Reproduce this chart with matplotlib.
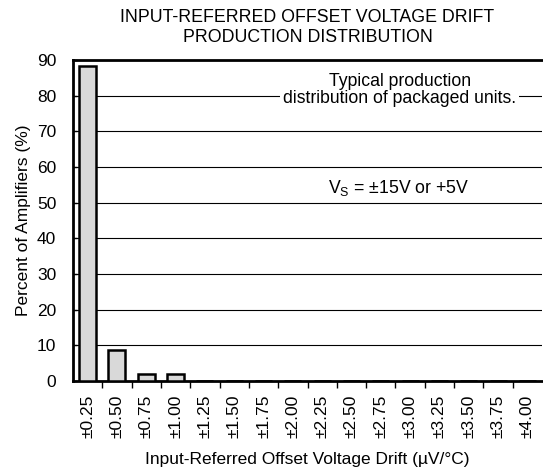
import numpy as np
import matplotlib.pyplot as plt

plt.rcParams['font.family'] = ['Liberation Sans', 'DejaVu Sans']

# Datos
categories = ["±0.25", "±0.50", "±0.75", "±1.00", "±1.25", "±1.50", "±1.75", "±2.00",
              "±2.25", "±2.50", "±2.75", "±3.00", "±3.25", "±3.50", "±3.75", "±4.00"]
percent = [88.3, 8.6, 2.0, 2.0, 0, 0, 0, 0, 0, 0, 0, 0, 0, 0, 0, 0]

x = np.arange(len(categories))

fig = plt.figure(figsize=(5.43, 4.76), dpi=100)
ax = fig.add_axes([73 / 543, 1 - 381 / 476, 469 / 543, 321 / 476])

# Grid horizontal
for yv in range(10, 90, 10):
    ax.axhline(yv, color="black", linewidth=0.8, zorder=1)

ax.bar(x, percent, width=0.58, color="#d9d9d9", edgecolor="black",
       linewidth=1.8, zorder=3)

ax.set_xlim(-0.5, 15.5)
ax.set_ylim(0, 90)
ax.set_yticks(range(0, 91, 10))
ax.tick_params(axis="y", direction="in", length=3, width=1, labelsize=12.5, pad=12)

ax.set_xticks(x)
ax.set_xticklabels(categories, rotation=90, fontsize=12.5)
ax.tick_params(axis="x", which="major", length=0, pad=10)
ax.set_xticks(x[:-1] + 0.5, minor=True)
ax.tick_params(axis="x", which="minor", direction="out", length=5, width=1)

for side in ["left", "bottom", "top"]:
    ax.spines[side].set_linewidth(2)
ax.spines["right"].set_visible(False)

ax.set_ylabel("Percent of Amplifiers (%)", fontsize=12.5, labelpad=4)
ax.set_xlabel("Input-Referred Offset Voltage Drift (µV/°C)", fontsize=12.5, labelpad=10)

ax.text(10.65, 81.6, "Typical production\ndistribution of packaged units.",
        ha="center", va="center", fontsize=12.7, linespacing=1.05,
        bbox=dict(facecolor="white", edgecolor="none", pad=2), zorder=4)
ax.text(10.62, 54.1, r"V$_\mathregular{S}$ = ±15V or +5V", ha="center", va="center",
        fontsize=12.7, zorder=4)

xc = (73 + 542) / 2 / 543
fig.text(xc, 1 - 17 / 476, "INPUT-REFERRED OFFSET VOLTAGE DRIFT", ha="center",
         va="center", fontsize=12.8)
fig.text(xc, 1 - 38 / 476, "PRODUCTION DISTRIBUTION", ha="center",
         va="center", fontsize=12.8)

fig.savefig("out.png", dpi=100)
